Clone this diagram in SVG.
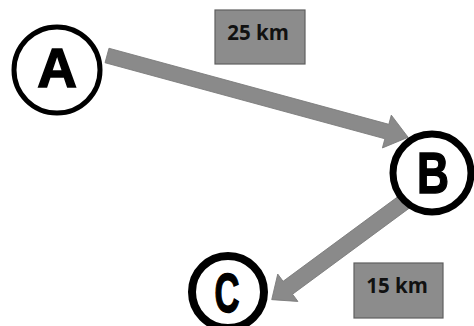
<svg xmlns="http://www.w3.org/2000/svg" width="474" height="326" viewBox="0 0 474 326">
<style>
.arrow{fill:#8a8a8a;stroke:#7a7a7a;stroke-width:0.8}
.ring{fill:#ffffff;stroke:#000000}
.letter{font-family:"Liberation Sans",Arial,sans-serif;font-weight:bold;fill:#000000;stroke:#000000;stroke-width:1.5;text-anchor:middle}
.box{fill:#8c8c8c;stroke:#5f5f5f;stroke-width:1.2}
.lbl{font-family:"Open Sans","Liberation Sans",sans-serif;font-weight:bold;font-size:20.5px;fill:#111111;text-anchor:middle}
</style>
<rect width="474" height="326" fill="#ffffff"/>
<g id="connectors">
<g transform="translate(107,55.5) rotate(15.2)">
<polygon class="arrow" points="0,-7.5 290,-7.5 290,-17 312,0 290,17 290,7.5 0,7.5"/>
</g>
<g transform="translate(415,194) rotate(143.6)">
<polygon class="arrow" points="0,-8 158,-8 158,-17 178,0 158,17 158,8 0,8"/>
</g>
</g>
<g id="label-25">
<rect class="box" x="215" y="10" width="90" height="54"/>
<text class="lbl" x="258" y="40">25 km</text>
</g>
<g id="label-15">
<rect class="box" x="354" y="263" width="89" height="55"/>
<text class="lbl" x="397" y="293">15 km</text>
</g>
<g id="node-A">
<circle class="ring" cx="57" cy="70" r="43" stroke-width="5"/>
<text class="letter" x="57" y="87" font-size="55">A</text>
</g>
<g id="node-B">
<circle class="ring" cx="432" cy="173" r="39" stroke-width="7"/>
<text class="letter" x="433" y="192.5" font-size="58" textLength="32" lengthAdjust="spacingAndGlyphs">B</text>
</g>
<g id="node-C">
<circle class="ring" cx="228" cy="292" r="36" stroke-width="8"/>
<text class="letter" x="227" y="311.5" font-size="55" textLength="25" lengthAdjust="spacingAndGlyphs">C</text>
</g>
</svg>
